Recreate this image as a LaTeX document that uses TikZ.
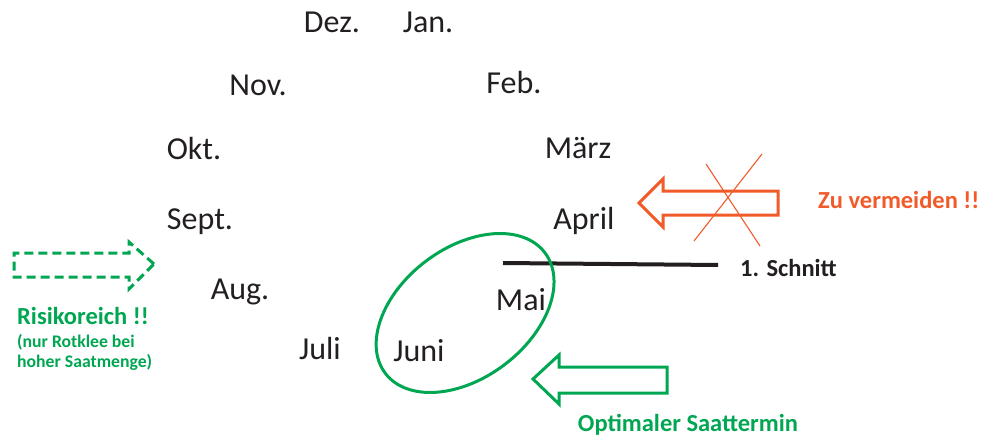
\documentclass[tikz,border=0pt]{standalone}
\usepackage{fontspec}
\setmainfont{Carlito}
\definecolor{grn}{HTML}{00A651}
\definecolor{org}{HTML}{F15A29}
\definecolor{ink}{HTML}{231F20}
\begin{document}
\begin{tikzpicture}[x=1pt,y=-1pt,
  month/.style={font=\fontsize{32}{36}\selectfont, text=ink, inner sep=0pt},
  lbl/.style={font=\fontsize{24.5}{28}\selectfont\bfseries, inner sep=0pt},
  small/.style={font=\fontsize{17.7}{21}\selectfont\bfseries, inner sep=0pt, text=grn},
  blockarrow/.style={line width=3pt, line join=miter}]
\useasboundingbox (0,0) rectangle (985,441);

% months arranged around the year
\node[month] (dez)  at (332,22)  {Dez.};
\node[month] (jan)  at (428,22)  {Jan.};
\node[month] (nov)  at (258,85)  {Nov.};
\node[month] (feb)  at (514,83)  {Feb.};
\node[month] (okt)  at (194,149) {Okt.};
\node[month] (mrz)  at (578,148) {März};
\node[month] (sep)  at (200,222) {Sept.};
\node[month] (apr)  at (584,221) {April};
\node[month] (aug)  at (240,292) {Aug.};
\node[month] (mai)  at (521,300) {Mai};
\node[month] (jul)  at (320,349) {Juli};
\node[month] (jun)  at (419,351) {Juni};

% first cut
\coordinate (cutL) at (503,263);
\coordinate (cutR) at (718,265);
\draw[line width=4pt, ink] (cutL) -- (cutR);
\node[lbl, anchor=west, text=ink] (schnitt) at (740,268) {1. Schnitt};

% optimal sowing window
\coordinate (ec) at (465,313);
\draw[grn, line width=3pt, rotate around={37:(ec)}] (ec) ellipse [x radius=100pt, y radius=65pt];

% green block arrow
\draw[grn, blockarrow] (533,379) -- (559,355) -- (559,367) -- (667,367) -- (667,393) -- (559,393) -- (559,404) -- cycle;
\node[lbl, text=grn] (opt) at (688,425) {Optimaler Saattermin};

% orange block arrow, crossed out
\draw[org, blockarrow] (639,203) -- (663,179) -- (663,191) -- (778,191) -- (778,215) -- (663,215) -- (663,227) -- cycle;
\draw[org, line width=1.1pt] (706,164) -- (760,246);
\draw[org, line width=1.1pt] (762,154) -- (694,241);
\node[lbl, text=org, anchor=west] (zu) at (818,200) {Zu vermeiden !!};

% dashed green arrow
\draw[grn, line width=3pt, dash pattern=on 9pt off 5pt, line join=miter]
  (154,264) -- (129,242) -- (129,253) -- (14,253) -- (14,277) -- (129,277) -- (129,289) -- cycle;
\node[lbl, text=grn, anchor=west] (risk) at (17,316) {Risikoreich !!};
\node[small, anchor=west] (nur) at (17,342) {(nur Rotklee bei};
\node[small, anchor=west] (hoh) at (17,362) {hoher Saatmenge)};
\end{tikzpicture}
\end{document}
